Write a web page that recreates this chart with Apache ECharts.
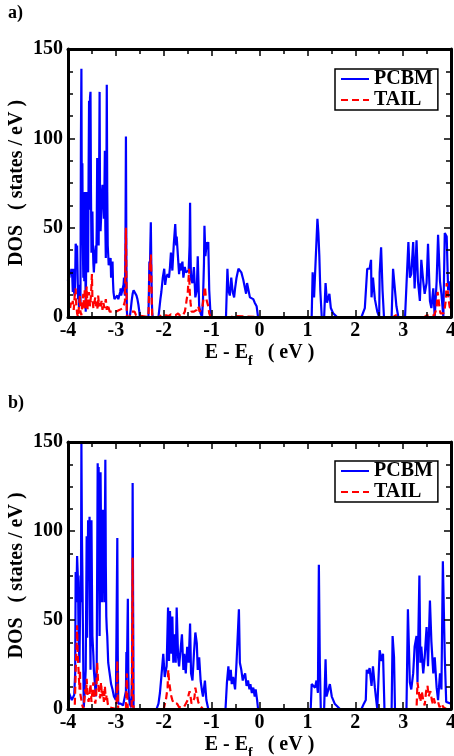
<!DOCTYPE html>
<html><head><meta charset="utf-8">
<script src="https://cdn.jsdelivr.net/npm/echarts@6/dist/echarts.min.js"></script>
<style>html,body{margin:0;padding:0;background:#fff}#c{width:454px;height:756px}</style>
</head><body><div id="c"></div>
<script>
const panelLabels = ['a)', 'b)'];
const seriesNames = ['PCBM', 'TAIL'];
const xRange = [-4, 4];
const yRange = [0, 150];

const aPcbm = [
[-4.00,20],[-3.99,27],[-3.97,22],[-3.96,26],[-3.94,24],[-3.93,27],[-3.91,22],[-3.90,14],[-3.89,27],[-3.88,15],[-3.86,12],[-3.85,22],[-3.84,41],[-3.82,38],[-3.81,40],[-3.79,10],[-3.78,18],[-3.77,5],[-3.75,18],[-3.74,8],[-3.73,100],[-3.72,139],[-3.71,50],[-3.70,86],[-3.69,40],[-3.68,22],[-3.67,50],[-3.66,20],[-3.65,70],[-3.64,40],[-3.63,3],[-3.62,30],[-3.61,70],[-3.60,45],[-3.59,30],[-3.58,25],[-3.57,80],[-3.56,121],[-3.55,60],[-3.54,123],[-3.53,126],[-3.52,70],[-3.51,36],[-3.50,45],[-3.49,59],[-3.48,40],[-3.47,30],[-3.46,25],[-3.44,35],[-3.42,40],[-3.41,30],[-3.40,50],[-3.39,89],[-3.38,70],[-3.37,61],[-3.36,40],[-3.35,80],[-3.34,126],[-3.33,60],[-3.32,48],[-3.31,55],[-3.30,65],[-3.28,74],[-3.27,70],[-3.26,62],[-3.25,55],[-3.24,70],[-3.23,93],[-3.22,50],[-3.21,33],[-3.20,60],[-3.19,130],[-3.18,70],[-3.17,40],[-3.16,35],[-3.15,29],[-3.13,31],[-3.11,33],[-3.10,22],[-3.09,29],[-3.07,31],[-3.06,20],[-3.05,14],[-3.04,12],[-3.03,10],[-3.01,11],[-2.99,10],[-2.97,12],[-2.95,10],[-2.93,11],[-2.91,14],[-2.90,16],[-2.89,12],[-2.87,11],[-2.85,13],[-2.84,18],[-2.83,22],[-2.82,14],[-2.81,12],[-2.80,40],[-2.79,101],[-2.78,30],[-2.77,3],[-2.76,0],[-2.71,0],[-2.69,4],[-2.67,9],[-2.65,13],[-2.63,15],[-2.61,16],[-2.59,14],[-2.57,12],[-2.55,10],[-2.53,7],[-2.51,3],[-2.50,0],[-2.32,0],[-2.31,15],[-2.30,31],[-2.29,25],[-2.28,40],[-2.27,53],[-2.26,30],[-2.25,10],[-2.24,2],[-2.23,0],[-2.11,0],[-2.07,10],[-2.05,14],[-2.02,22],[-1.99,27],[-1.97,18],[-1.95,22],[-1.92,24],[-1.89,22],[-1.87,28],[-1.85,36],[-1.82,26],[-1.79,41],[-1.76,52],[-1.74,40],[-1.73,45],[-1.71,45],[-1.68,24],[-1.66,30],[-1.65,26],[-1.61,31],[-1.59,22],[-1.58,24],[-1.56,28],[-1.54,25],[-1.51,24],[-1.48,26],[-1.46,40],[-1.45,64],[-1.44,35],[-1.43,21],[-1.40,19],[-1.37,28],[-1.34,11],[-1.31,15],[-1.29,34],[-1.26,6],[-1.23,2],[-1.20,0],[-1.18,10],[-1.16,30],[-1.15,51],[-1.13,34],[-1.10,42],[-1.09,38],[-1.07,42],[-1.05,15],[-1.02,0],[-0.70,0],[-0.67,27],[-0.65,15],[-0.62,12],[-0.59,22],[-0.56,14],[-0.53,11],[-0.51,16],[-0.48,22],[-0.44,27],[-0.41,26],[-0.38,25],[-0.34,21],[-0.31,20],[-0.28,13],[-0.26,19],[-0.23,15],[-0.20,11],[-0.17,10],[-0.13,10],[-0.10,8],[-0.06,6],[-0.03,0],[1.09,0],[1.11,25],[1.14,11],[1.18,10],[1.21,55],[1.23,47],[1.25,34],[1.27,15],[1.30,0],[1.35,0],[1.38,19],[1.41,8],[1.46,13],[1.49,5],[1.54,2],[1.62,0],[2.13,0],[2.20,5],[2.24,6],[2.25,27],[2.28,26],[2.30,27],[2.33,32],[2.34,11],[2.37,22],[2.41,10],[2.44,10],[2.46,3],[2.50,0],[2.51,25],[2.54,39],[2.57,15],[2.60,0],[2.76,0],[2.79,27],[2.83,28],[2.86,6],[2.90,0],[3.04,0],[3.07,18],[3.11,42],[3.14,22],[3.17,24],[3.21,42],[3.24,16],[3.28,43],[3.31,20],[3.35,9],[3.38,32],[3.42,20],[3.45,13],[3.49,19],[3.52,41],[3.56,9],[3.59,5],[3.63,16],[3.66,0],[3.70,20],[3.73,46],[3.77,20],[3.80,13],[3.84,0],[3.87,47],[3.91,45],[3.94,15],[3.98,20],[4.00,8]
];

const aTail = [
[-4.00,5],[-3.98,7],[-3.96,4],[-3.94,8],[-3.92,6],[-3.90,9],[-3.88,4],[-3.86,12],[-3.84,16],[-3.83,8],[-3.81,2],[-3.79,0],[-3.77,6],[-3.75,12],[-3.74,3],[-3.72,1],[-3.70,8],[-3.68,13],[-3.66,4],[-3.65,16],[-3.63,5],[-3.61,17],[-3.59,4],[-3.58,10],[-3.56,14],[-3.54,6],[-3.52,12],[-3.50,24],[-3.49,10],[-3.47,5],[-3.45,8],[-3.43,11],[-3.42,6],[-3.40,9],[-3.38,4],[-3.37,12],[-3.35,6],[-3.33,8],[-3.31,5],[-3.30,9],[-3.28,4],[-3.26,8],[-3.24,5],[-3.21,10],[-3.19,4],[-3.17,7],[-3.15,5],[-3.13,3],[-3.10,4],[-3.07,3],[-3.04,2],[-3.00,3],[-2.96,2],[-2.92,4],[-2.88,3],[-2.85,5],[-2.83,7],[-2.81,9],[-2.80,30],[-2.79,50],[-2.78,20],[-2.77,0],[-2.72,0],[-2.68,3],[-2.64,4],[-2.61,3],[-2.58,1],[-2.55,0],[-2.32,0],[-2.30,20],[-2.29,30],[-2.28,28],[-2.27,35],[-2.26,25],[-2.25,8],[-2.24,0],[-2.10,0],[-2.05,1],[-2.00,0.5],[-1.95,1],[-1.90,0.5],[-1.85,1.5],[-1.80,1],[-1.75,1],[-1.70,2],[-1.65,0.5],[-1.60,1],[-1.56,3],[-1.54,6],[-1.52,10],[-1.50,13],[-1.48,22],[-1.47,27],[-1.46,15],[-1.44,8],[-1.42,3],[-1.40,2],[-1.37,3],[-1.34,2],[-1.31,4],[-1.28,6],[-1.25,3],[-1.22,2],[-1.19,6],[-1.16,12],[-1.14,17],[-1.12,11],[-1.10,9],[-1.07,6],[-1.05,2],[-1.02,0],[-0.60,0],[-0.50,0.5],[-0.30,0.3],[0.00,0],[2.80,0],[2.85,1],[2.90,0],[3.45,0],[3.50,1],[3.55,0.5],[3.65,1],[3.70,5],[3.72,14],[3.74,10],[3.76,5],[3.78,2],[3.80,3],[3.84,2],[3.87,5],[3.89,9],[3.91,19],[3.93,15],[3.95,10],[3.97,6],[4.00,3]
];

const bPcbm = [
[-4.00,3],[-3.99,6],[-3.98,9],[-3.96,10],[-3.94,8],[-3.92,5],[-3.89,6],[-3.87,8],[-3.85,20],[-3.84,77],[-3.83,60],[-3.82,70],[-3.81,86],[-3.79,71],[-3.78,40],[-3.76,26],[-3.74,75],[-3.73,60],[-3.72,150],[-3.71,100],[-3.70,78],[-3.68,22],[-3.67,1],[-3.65,10],[-3.63,22],[-3.62,60],[-3.61,97],[-3.60,40],[-3.58,106],[-3.57,90],[-3.56,78],[-3.55,108],[-3.54,50],[-3.53,22],[-3.51,106],[-3.50,70],[-3.49,41],[-3.47,30],[-3.46,22],[-3.44,15],[-3.42,7],[-3.40,26],[-3.38,138],[-3.37,120],[-3.36,136],[-3.35,80],[-3.34,41],[-3.33,90],[-3.32,133],[-3.31,100],[-3.30,112],[-3.29,60],[-3.28,97],[-3.27,70],[-3.26,112],[-3.25,85],[-3.24,60],[-3.23,100],[-3.22,140],[-3.21,80],[-3.20,52],[-3.19,45],[-3.18,41],[-3.16,26],[-3.14,22],[-3.12,18],[-3.10,14],[-3.07,11],[-3.04,7],[-3.00,5],[-2.98,4],[-2.97,96],[-2.96,30],[-2.95,3],[-2.90,3],[-2.85,2],[-2.81,1],[-2.79,10],[-2.78,32],[-2.77,20],[-2.75,62],[-2.74,20],[-2.73,7],[-2.71,3],[-2.68,1],[-2.66,20],[-2.65,127],[-2.64,60],[-2.63,0],[-2.15,0],[-2.11,3],[-2.08,9],[-2.05,18],[-2.01,31],[-1.98,18],[-1.94,24],[-1.91,57],[-1.89,27],[-1.87,55],[-1.84,31],[-1.82,52],[-1.80,26],[-1.77,42],[-1.75,26],[-1.73,57],[-1.70,29],[-1.68,24],[-1.65,33],[-1.62,42],[-1.59,22],[-1.57,31],[-1.54,20],[-1.51,35],[-1.48,26],[-1.45,48],[-1.43,20],[-1.40,16],[-1.37,31],[-1.34,43],[-1.31,37],[-1.29,22],[-1.26,29],[-1.23,16],[-1.20,10],[-1.18,7],[-1.14,16],[-1.11,5],[-1.07,0],[-0.71,0],[-0.68,15],[-0.65,24],[-0.63,16],[-0.60,22],[-0.58,14],[-0.55,18],[-0.51,11],[-0.48,26],[-0.45,27],[-0.43,56],[-0.41,26],[-0.38,22],[-0.35,16],[-0.33,18],[-0.30,20],[-0.27,13],[-0.24,16],[-0.21,11],[-0.19,14],[-0.16,9],[-0.13,12],[-0.10,7],[-0.08,11],[-0.05,5],[-0.03,0],[1.07,0],[1.09,14],[1.12,15],[1.16,12],[1.19,16],[1.22,9],[1.24,81],[1.26,26],[1.28,0],[1.35,0],[1.38,28],[1.40,7],[1.44,7],[1.47,14],[1.51,7],[1.57,3],[1.68,0],[2.13,0],[2.18,3],[2.22,5],[2.24,22],[2.27,20],[2.30,23],[2.34,13],[2.37,24],[2.41,12],[2.43,7],[2.46,0],[2.51,33],[2.55,27],[2.58,31],[2.61,0],[2.76,0],[2.78,41],[2.81,29],[2.83,0],[3.07,0],[3.10,56],[3.14,15],[3.17,11],[3.21,20],[3.24,35],[3.28,41],[3.30,15],[3.34,75],[3.36,26],[3.38,35],[3.42,20],[3.45,29],[3.49,46],[3.52,24],[3.56,61],[3.59,38],[3.63,20],[3.66,29],[3.70,12],[3.73,5],[3.77,20],[3.80,11],[3.83,83],[3.87,29],[3.90,4],[3.94,3],[4.00,3]
];

const bTail = [
[-4.00,0],[-3.86,0],[-3.85,10],[-3.84,22],[-3.82,35],[-3.81,47],[-3.80,32],[-3.78,22],[-3.76,11],[-3.75,22],[-3.74,8],[-3.72,5],[-3.70,2],[-3.68,0],[-3.66,5],[-3.64,11],[-3.62,8],[-3.61,17],[-3.59,7],[-3.57,4],[-3.55,8],[-3.53,14],[-3.51,4],[-3.49,10],[-3.47,15],[-3.45,6],[-3.43,3],[-3.41,8],[-3.39,26],[-3.37,14],[-3.35,10],[-3.33,6],[-3.31,15],[-3.29,7],[-3.27,10],[-3.25,4],[-3.23,13],[-3.21,5],[-3.19,8],[-3.17,3],[-3.15,1],[-3.13,0],[-2.99,0],[-2.98,10],[-2.97,27],[-2.96,5],[-2.95,0],[-2.79,0],[-2.78,10],[-2.77,20],[-2.76,5],[-2.75,0],[-2.67,0],[-2.66,40],[-2.65,85],[-2.64,10],[-2.63,0],[-2.00,0],[-1.95,6],[-1.92,12],[-1.905,22],[-1.89,16],[-1.87,12],[-1.85,8],[-1.82,5],[-1.79,3],[-1.76,2],[-1.72,3],[-1.68,1],[-1.64,2],[-1.58,1],[-1.54,3],[-1.50,5],[-1.48,8],[-1.46,10],[-1.44,7],[-1.42,3],[-1.39,4],[-1.36,6],[-1.34,12],[-1.32,9],[-1.30,7],[-1.28,4],[-1.25,2],[-1.22,1],[-1.18,0],[3.28,0],[3.30,15],[3.32,16],[3.34,7],[3.36,4],[3.39,10],[3.42,5],[3.45,2],[3.48,10],[3.51,13],[3.53,7],[3.55,6],[3.57,10],[3.60,5],[3.62,3],[3.64,6],[3.67,3],[3.70,2],[3.73,4],[3.76,1],[3.80,3],[3.84,1],[3.87,2],[3.90,0],[4.00,0]
];

const FONT = "'Liberation Serif','Times New Roman',serif";
const grids = [
  { left: 68, top: 49, width: 383, height: 268, outerBoundsMode: 'none', containLabel: false },
  { left: 68, top: 442, width: 383, height: 267, outerBoundsMode: 'none', containLabel: false }
];
const panels = [[aPcbm, aTail], [bPcbm, bTail]];

const xAxes = [], yAxes = [], series = [], legends = [], titles = [];
const lineAxis = { onZero: false, lineStyle: { color: '#000', width: 3 } };
const tick = { inside: true, length: 7, lineStyle: { color: '#000', width: 1.5 } };
const minor = (n) => ({ show: true, splitNumber: n, length: 5, lineStyle: { color: '#000', width: 1.5 } });
const lab = { color: '#000', fontFamily: FONT, fontWeight: 'bold', fontSize: 20 };

grids.forEach((g, i) => {
  xAxes.push({
    gridIndex: i, type: 'value', min: xRange[0], max: xRange[1], interval: 1, position: 'bottom', z: 5,
    axisLine: lineAxis, axisTick: tick, minorTick: minor(2),
    splitLine: { show: false },
    axisLabel: Object.assign({ margin: 4, showMinLabel: true, showMaxLabel: true }, lab),
    name: '{a|E - E}{s|f}{a|   ( eV )}', nameLocation: 'middle', nameGap: 21, nameMoveOverlap: false,
    nameTextStyle: { rich: {
      a: { fontFamily: FONT, fontWeight: 'bold', fontSize: 20, color: '#000' },
      s: { fontFamily: FONT, fontWeight: 'bold', fontSize: 14, color: '#000', padding: [16, 0, 0, 0] }
    } }
  });
  xAxes.push({
    gridIndex: i, type: 'value', min: xRange[0], max: xRange[1], interval: 1, position: 'top', z: 5,
    axisLine: lineAxis, axisTick: tick, minorTick: minor(2),
    splitLine: { show: false }, axisLabel: { show: false }
  });
  yAxes.push({
    gridIndex: i, type: 'value', min: yRange[0], max: yRange[1], interval: 50, position: 'left', z: 5,
    axisLine: lineAxis, axisTick: tick, minorTick: minor(4),
    splitLine: { show: false },
    axisLabel: Object.assign({ margin: 5 }, lab),
    name: 'DOS   ( states / eV )', nameLocation: 'middle', nameGap: 41, nameMoveOverlap: false,
    nameTextStyle: { color: '#000', fontFamily: FONT, fontWeight: 'bold', fontSize: 20 }
  });
  yAxes.push({
    gridIndex: i, type: 'value', min: yRange[0], max: yRange[1], interval: 50, position: 'right', z: 5,
    axisLine: lineAxis, axisTick: tick, minorTick: minor(4),
    splitLine: { show: false }, axisLabel: { show: false }
  });
  series.push({
    name: seriesNames[0], type: 'line', xAxisIndex: 2 * i, yAxisIndex: 2 * i,
    data: panels[i][0], symbol: 'circle', showSymbol: false, animation: false,
    lineStyle: { color: '#0000ff', width: 2.2 }, itemStyle: { color: '#0000ff' }
  });
  series.push({
    name: seriesNames[1], type: 'line', xAxisIndex: 2 * i, yAxisIndex: 2 * i,
    data: panels[i][1], symbol: 'circle', showSymbol: false, animation: false,
    lineStyle: { color: '#ff0000', width: 2.2, type: [7, 4] }, itemStyle: { color: '#ff0000' }
  });
  legends.push({
    data: seriesNames, orient: 'vertical', left: 335, top: g.top + (i === 0 ? 20 : 19),
    itemWidth: 28, itemHeight: 14, itemGap: 1, padding: [0, 5, 0, 5],
    borderColor: '#000', borderWidth: 1.5, borderRadius: 0, backgroundColor: '#fff',
    itemStyle: { opacity: 0 },
    textStyle: { color: '#000', fontFamily: FONT, fontWeight: 'bold', fontSize: 20, lineHeight: 18 }
  });
  titles.push({
    text: panelLabels[i], left: 8, top: i === 0 ? 4 : 394, padding: 0,
    textStyle: { color: '#000', fontFamily: FONT, fontWeight: 'bold', fontSize: 18 }
  });
});

const chart = echarts.init(document.getElementById('c'), null, { renderer: 'canvas' });
chart.setOption({
  animation: false,
  backgroundColor: '#fff',
  title: titles,
  grid: grids,
  xAxis: xAxes,
  yAxis: yAxes,
  legend: legends,
  series: series
});
</script>
</body></html>
